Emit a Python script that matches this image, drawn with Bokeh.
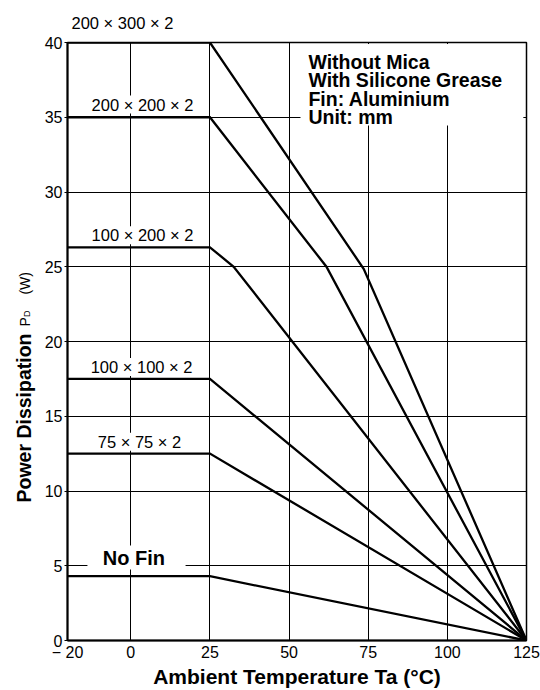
from bokeh.plotting import figure
from bokeh.models import Label, FixedTicker, Range1d, Title
from bokeh.layouts import row
from bokeh.core.properties import value
from bokeh.embed import file_html
from bokeh.resources import INLINE

# ---- data ----
temp_200x300 = [-20, 25, 73.6, 125]
pd_200x300 = [40, 40, 24.85, 0]
temp_200x200 = [-20, 25, 61.8, 125]
pd_200x200 = [35, 35, 25, 0]
temp_100x200 = [-20, 25, 32.5, 125]
pd_100x200 = [26.3, 26.3, 25, 0]
temp_100x100 = [-20, 25, 125]
pd_100x100 = [17.5, 17.5, 0]
temp_75x75 = [-20, 25, 125]
pd_75x75 = [12.5, 12.5, 0]
temp_nofin = [-20, 25, 125]
pd_nofin = [4.3, 4.3, 0]

series_names = ["200 × 300 × 2", "200 × 200 × 2", "100 × 200 × 2",
                "100 × 100 × 2", "75 × 75 × 2", "No Fin"]
x_ticks = [-20, 0, 25, 50, 75, 100, 125]
y_ticks = [0, 5, 10, 15, 20, 25, 30, 35, 40]
note_lines = ["Without Mica", "With Silicone Grease", "Fin: Aluminium", "Unit: mm"]
x_title = "Ambient Temperature Ta (°C)"
y_title_parts = ["Power Dissipation", "P", "D", "(W)"]

FONT = "Liberation Sans"
LEFT_W = 40
TOP, BOTTOM = 42, 50

yrange = Range1d(0, 40)

# ---- narrow strip holding the y-axis title (shares the y scale) ----
left = figure(width=LEFT_W, height=690, output_backend="svg",
              toolbar_location=None, x_range=Range1d(0, LEFT_W),
              y_range=yrange, x_axis_type=None, y_axis_type=None,
              min_border_left=0, min_border_right=0,
              min_border_top=TOP, min_border_bottom=BOTTOM,
              outline_line_color=None,
              background_fill_color="white", border_fill_color="white")
left.xgrid.visible = False
left.ygrid.visible = False
ytitle_specs = [  # (x px, y in chart units, size, style)
    (23.5, 9.23, "19.5px", "bold"),
    (24.5, 21.0, "14px", "normal"),
    (26.5, 21.64, "9px", "normal"),
    (24.5, 23.14, "14px", "normal"),
]
for txt, (tx, ty, sz, st) in zip(y_title_parts, ytitle_specs):
    left.text(x=[tx], y=[ty], text=[txt], angle=1.5708,
              text_font=value(FONT), text_font_size=value(sz),
              text_font_style=st, text_color="black",
              text_align="left", text_baseline="alphabetic")

# ---- main chart ----
p = figure(width=540 - LEFT_W, height=690, output_backend="svg",
           toolbar_location=None,
           x_range=Range1d(-20, 125), y_range=yrange,
           min_border_left=67 - LEFT_W, min_border_right=14,
           min_border_top=TOP, min_border_bottom=BOTTOM,
           background_fill_color="white", border_fill_color="white")

p.outline_line_color = "black"
p.outline_line_width = 1.5
p.outline_line_alpha = 1

for ax in (p.xaxis, p.yaxis):
    ax.axis_line_color = "black"
    ax.axis_line_width = 2
    ax.major_tick_line_color = "black"
    ax.minor_tick_line_color = None
    ax.major_label_text_font = FONT
    ax.major_label_text_font_size = "16px"
    ax.major_label_text_color = "black"

p.xaxis.ticker = FixedTicker(ticks=x_ticks)
p.yaxis.ticker = FixedTicker(ticks=y_ticks)
p.xaxis.major_label_overrides = {-20: "− 20"}
p.xaxis.major_tick_out = 0
p.xaxis.major_tick_in = 0
p.yaxis.major_tick_out = 3
p.yaxis.major_tick_in = 0
p.xaxis.major_label_standoff = 3
p.yaxis.major_label_standoff = 2

p.xaxis.axis_label = x_title
p.xaxis.axis_label_text_font = FONT
p.xaxis.axis_label_text_font_size = "21px"
p.xaxis.axis_label_text_font_style = "bold"
p.xaxis.axis_label_text_color = "black"
p.xaxis.axis_label_standoff = 1

p.xgrid.ticker = FixedTicker(ticks=x_ticks)
p.ygrid.ticker = FixedTicker(ticks=y_ticks)
for g in (p.xgrid, p.ygrid):
    g.grid_line_color = "black"
    g.grid_line_width = 1
    g.grid_line_alpha = 1

# label of the top curve, above the frame
p.add_layout(Title(text=series_names[0], align="left", offset=4,
                   standoff=22, text_font=FONT, text_font_size="16.5px",
                   text_font_style="normal", text_color="black"), "above")

# white masks (gaps in the grid behind the note block and "No Fin")
p.quad(left=53.6, right=124.0, bottom=34.45, top=39.9,
       fill_color="white", line_color=None)
p.quad(left=-13.7, right=17.3, bottom=4.75, top=6.35,
       fill_color="white", line_color=None)

curves = [(temp_200x300, pd_200x300), (temp_200x200, pd_200x200),
          (temp_100x200, pd_100x200), (temp_100x100, pd_100x100),
          (temp_75x75, pd_75x75), (temp_nofin, pd_nofin)]
for xs, ys in curves:
    p.line(xs, ys, line_color="black", line_width=2.3, line_join="miter")

# curve labels inside the frame
label_pos = [(3.7, 35.85), (3.7, 27.1), (3.4, 18.3), (2.75, 13.3)]
for name, (lx, ly) in zip(series_names[1:5], label_pos):
    p.add_layout(Label(x=lx, y=ly, text=name, text_font=FONT,
                       text_font_size="16.5px", text_color="black",
                       text_align="center", text_baseline="middle",
                       background_fill_color="white"))
p.add_layout(Label(x=1.0, y=5.55, text=series_names[5], text_font=FONT,
                   text_font_size="20px", text_font_style="bold",
                   text_color="black", text_align="center",
                   text_baseline="middle"))

# note block
for line, ly in zip(note_lines, [38.68, 37.46, 36.23, 35.0]):
    p.add_layout(Label(x=56.1, y=ly, text=line, text_font=FONT,
                       text_font_size="19.5px", text_font_style="bold",
                       text_color="black", text_align="left",
                       text_baseline="alphabetic"))

layout = row(left, p)
open("out.html", "w").write(file_html(layout, INLINE))
